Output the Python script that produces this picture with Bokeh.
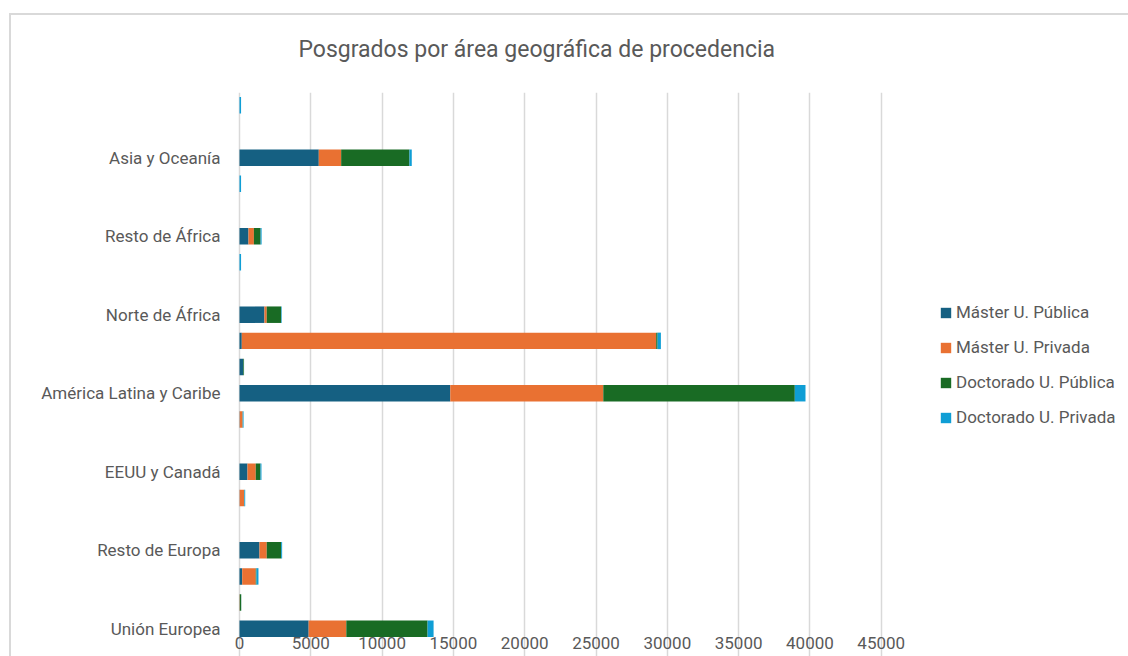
from bokeh.plotting import figure
from bokeh.models import ColumnDataSource, FixedTicker, Legend, LegendItem
from bokeh.embed import file_html
from bokeh.resources import INLINE

# ---- data -------------------------------------------------------------
regions = ["Unión Europea", "Resto de Europa", "EEUU y Canadá",
           "América Latina y Caribe", "Norte de África", "Resto de África",
           "Asia y Oceanía"]
rows = list(range(21))  # 21 category rows, every third one labelled
series = ["Máster U. Pública", "Máster U. Privada",
          "Doctorado U. Pública", "Doctorado U. Privada"]

master_publica = [4850, 5, 190, 1400, 0, 10, 560, 0, 15, 14780, 250, 160,
                  1750, 0, 0, 630, 0, 0, 5560, 0, 0]
master_privada = [2640, 15, 950, 510, 0, 320, 580, 0, 200, 10730, 10, 29060,
                  160, 0, 0, 380, 0, 0, 1570, 0, 0]
doctorado_publica = [5700, 100, 50, 1010, 0, 10, 330, 0, 10, 13430, 50, 100,
                     1010, 0, 0, 470, 0, 0, 4790, 0, 0]
doctorado_privada = [420, 5, 140, 70, 0, 60, 70, 0, 60, 750, 10, 230,
                     40, 0, 110, 70, 0, 110, 160, 0, 110]

x_ticks = [0, 5000, 10000, 15000, 20000, 25000, 30000, 35000, 40000, 45000]
label_rows = [0, 3, 6, 9, 12, 15, 18]

colors = ["#156082", "#E97132", "#196B24", "#0F9ED5"]
TXT = "#595959"
FONT = "Roboto"

source = ColumnDataSource(dict(y=rows, mpu=master_publica, mpr=master_privada,
                               dpu=doctorado_publica, dpr=doctorado_privada))

border_css = ("linear-gradient(#d9d9d9,#d9d9d9) 9px 13px / 100% 2px no-repeat, "
              "linear-gradient(#d9d9d9,#d9d9d9) 9px 13px / 2px 100% no-repeat")

# x range extends past 45000 so the legend sits inside the frame (no gridlines there),
# and a little below 0 so the "0" tick label is not clipped
p = figure(width=1128, height=656, output_backend="svg", toolbar_location=None,
           x_range=(-701, 62340), y_range=(-1.06, 20.49),
           min_border_left=229, min_border_right=0,
           min_border_top=92, min_border_bottom=0,
           styles={"background": border_css})
p.border_fill_alpha = 0

renderers = p.hbar_stack(["mpu", "mpr", "dpu", "dpr"], y="y", height=0.63,
                         color=colors, line_color=None, source=source)

# title
p.title.text = "Posgrados por área geográfica de procedencia"
p.title.text_font = FONT
p.title.text_font_size = "23px"
p.title.text_font_style = "normal"
p.title.text_color = TXT
p.title.align = "left"
p.title.offset = 69
p.title.standoff = 59

# x axis drawn just under the first row
p.xaxis.ticker = FixedTicker(ticks=x_ticks)
p.xaxis.fixed_location = -0.08
p.xaxis.axis_line_color = None
p.xaxis.major_tick_line_color = None
p.xaxis.minor_tick_line_color = None
p.xaxis.major_label_standoff = 0
p.xaxis.major_label_text_font = FONT
p.xaxis.major_label_text_font_size = "17px"
p.xaxis.major_label_text_color = TXT

# y axis (categories)
p.yaxis.ticker = FixedTicker(ticks=label_rows)
p.yaxis.major_label_overrides = {r: name for r, name in zip(label_rows, regions)}
p.yaxis.axis_line_color = None
p.yaxis.major_tick_line_color = None
p.yaxis.minor_tick_line_color = None
p.yaxis.major_label_standoff = 3
p.yaxis.major_label_text_font = FONT
p.yaxis.major_label_text_font_size = "17px"
p.yaxis.major_label_text_color = TXT

p.xgrid.grid_line_color = "#d9d9d9"
p.xgrid.grid_line_width = 1.5
p.ygrid.grid_line_color = None
p.outline_line_color = None

legend = Legend(items=[LegendItem(label=s, renderers=[r]) for s, r in zip(series, renderers)],
                location=(710, 229), orientation="vertical",
                glyph_width=13, glyph_height=13, label_height=20,
                label_standoff=4, spacing=15, padding=0, margin=0,
                border_line_color=None, background_fill_alpha=0,
                label_text_font=FONT, label_text_font_size="17px",
                label_text_color=TXT)
p.add_layout(legend, "center")

open("out.html", "w").write(file_html(p, INLINE))
